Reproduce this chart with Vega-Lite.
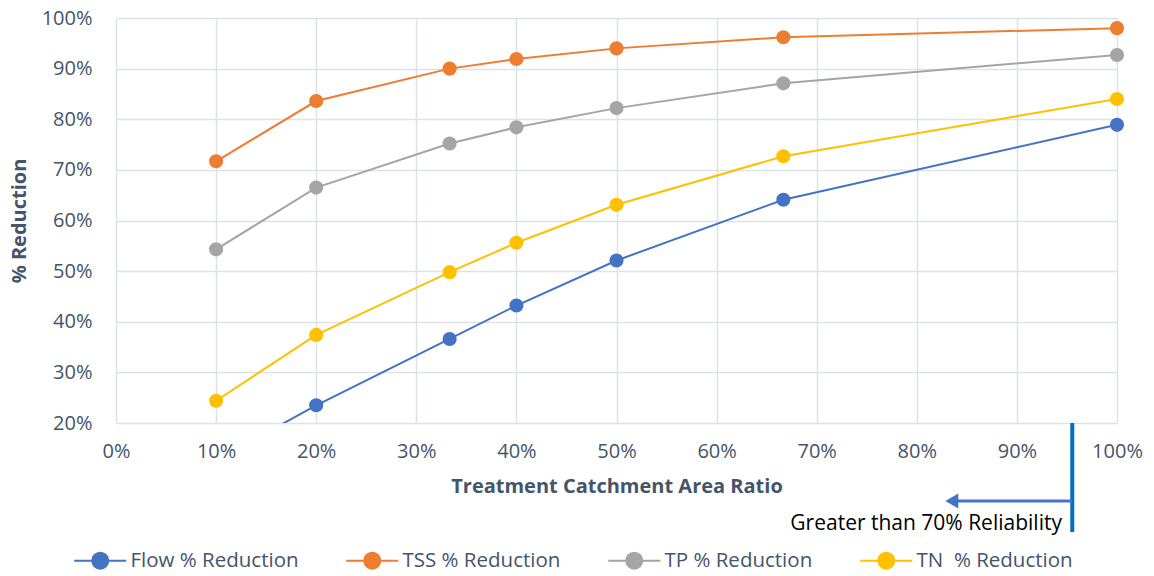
{
  "$schema": "https://vega.github.io/schema/vega-lite/v6.json",
  "autosize": {"type": "none"},
  "width": 1001,
  "height": 405,
  "padding": {"left": 116, "top": 18, "right": 37, "bottom": 153},
  "background": "white",
  "config": {
    "view": {"stroke": null},
    "font": "Open Sans",
    "axis": {
      "labelFont": "Open Sans",
      "labelFontSize": 20,
      "labelColor": "#44546A",
      "labelFlush": false,
      "labelOverlap": false,
      "titleFont": "Open Sans",
      "titleFontSize": 20,
      "titleFontWeight": "bold",
      "titleColor": "#44546A",
      "gridColor": "#DDE2E8",
      "gridWidth": 1.5,
      "domain": false,
      "ticks": false,
      "tickSize": 0
    }
  },
  "datasets": {
    "series": [
      {"ratio": 0.1, "series": "Flow % Reduction", "value": 0.126},
      {"ratio": 0.2, "series": "Flow % Reduction", "value": 0.235},
      {"ratio": 0.3333, "series": "Flow % Reduction", "value": 0.366},
      {"ratio": 0.4, "series": "Flow % Reduction", "value": 0.432},
      {"ratio": 0.5, "series": "Flow % Reduction", "value": 0.521},
      {"ratio": 0.6667, "series": "Flow % Reduction", "value": 0.641},
      {"ratio": 1.0, "series": "Flow % Reduction", "value": 0.789},
      {"ratio": 0.1, "series": "TSS % Reduction", "value": 0.717},
      {"ratio": 0.2, "series": "TSS % Reduction", "value": 0.836},
      {"ratio": 0.3333, "series": "TSS % Reduction", "value": 0.900},
      {"ratio": 0.4, "series": "TSS % Reduction", "value": 0.919},
      {"ratio": 0.5, "series": "TSS % Reduction", "value": 0.940},
      {"ratio": 0.6667, "series": "TSS % Reduction", "value": 0.962},
      {"ratio": 1.0, "series": "TSS % Reduction", "value": 0.980},
      {"ratio": 0.1, "series": "TP % Reduction", "value": 0.543},
      {"ratio": 0.2, "series": "TP % Reduction", "value": 0.665},
      {"ratio": 0.3333, "series": "TP % Reduction", "value": 0.752},
      {"ratio": 0.4, "series": "TP % Reduction", "value": 0.784},
      {"ratio": 0.5, "series": "TP % Reduction", "value": 0.822},
      {"ratio": 0.6667, "series": "TP % Reduction", "value": 0.871},
      {"ratio": 1.0, "series": "TP % Reduction", "value": 0.927},
      {"ratio": 0.1, "series": "TN\u00a0 % Reduction", "value": 0.244},
      {"ratio": 0.2, "series": "TN\u00a0 % Reduction", "value": 0.374},
      {"ratio": 0.3333, "series": "TN\u00a0 % Reduction", "value": 0.498},
      {"ratio": 0.4, "series": "TN\u00a0 % Reduction", "value": 0.556},
      {"ratio": 0.5, "series": "TN\u00a0 % Reduction", "value": 0.631},
      {"ratio": 0.6667, "series": "TN\u00a0 % Reduction", "value": 0.727},
      {"ratio": 1.0, "series": "TN\u00a0 % Reduction", "value": 0.840}
    ]
  },
  "layer": [
    {
      "data": {"name": "series"},
      "mark": {"type": "line", "strokeWidth": 2, "clip": true},
      "encoding": {
        "x": {
          "field": "ratio", "type": "quantitative",
          "scale": {"domain": [0, 1], "nice": false},
          "axis": {
            "values": [0, 0.1, 0.2, 0.3, 0.4, 0.5, 0.6, 0.7, 0.8, 0.9, 1],
            "format": ".0%",
            "labelPadding": 18,
            "title": "Treatment Catchment Area Ratio",
            "titlePadding": 15
          }
        },
        "y": {
          "field": "value", "type": "quantitative",
          "scale": {"domain": [0.2, 1], "nice": false, "zero": false},
          "axis": {
            "values": [0.2, 0.3, 0.4, 0.5, 0.6, 0.7, 0.8, 0.9, 1],
            "format": ".0%",
            "labelPadding": 24,
            "title": "% Reduction",
            "titlePadding": 12
          }
        },
        "color": {
          "field": "series", "type": "nominal",
          "scale": {
            "domain": ["Flow % Reduction", "TSS % Reduction", "TP % Reduction", "TN\u00a0 % Reduction"],
            "range": ["#4472C4", "#ED7D31", "#A5A5A5", "#FFC000"]
          },
          "legend": {
            "orient": "none",
            "legendX": -26,
            "legendY": 532,
            "direction": "horizontal",
            "title": null,
            "padding": 0,
            "symbolType": "M-3.25,0H3.25M-1,0A1,1,0,1,1,1,0A1,1,0,1,1,-1,0Z",
            "symbolSize": 256,
            "symbolStrokeWidth": 2,
            "labelFont": "Open Sans",
            "labelFontSize": 20.5,
            "labelColor": "#44546A",
            "labelOffset": 20,
            "columnPadding": 43,
            "labelLimit": 300,
            "encode": {
              "symbols": {
                "update": {
                  "fill": {"scale": "color", "field": "value"},
                  "stroke": {"scale": "color", "field": "value"},
                  "opacity": {"value": 1}
                }
              }
            }
          }
        }
      }
    },
    {
      "data": {"name": "series"},
      "transform": [{"filter": "datum.value >= 0.2"}],
      "mark": {"type": "point", "filled": true, "size": 200, "opacity": 1, "clip": false},
      "encoding": {
        "x": {"field": "ratio", "type": "quantitative"},
        "y": {"field": "value", "type": "quantitative"},
        "color": {"field": "series", "type": "nominal"}
      }
    },
    {
      "data": {"values": [{"x": 0.9553, "y": 0.2, "y2": -0.0153}]},
      "mark": {"type": "rule", "color": "#0070C0", "strokeWidth": 4, "clip": false},
      "encoding": {
        "x": {"field": "x", "type": "quantitative"},
        "y": {"field": "y", "type": "quantitative"},
        "y2": {"field": "y2"}
      }
    },
    {
      "data": {"values": [{"x": 0.9553, "x2": 0.838, "y": 0.0459}]},
      "mark": {"type": "rule", "color": "#4472C4", "strokeWidth": 3, "clip": false},
      "encoding": {
        "x": {"field": "x", "type": "quantitative"},
        "x2": {"field": "x2"},
        "y": {"field": "y", "type": "quantitative"}
      }
    },
    {
      "data": {"values": [{"x": 0.835, "y": 0.0459}]},
      "mark": {"type": "point", "shape": "triangle-left", "filled": true, "size": 225, "color": "#4472C4", "opacity": 1, "clip": false},
      "encoding": {
        "x": {"field": "x", "type": "quantitative"},
        "y": {"field": "y", "type": "quantitative"}
      }
    },
    {
      "data": {"values": [{"x": 0.945, "y": -0.0114, "label": "Greater than 70% Reliability"}]},
      "mark": {"type": "text", "align": "right", "baseline": "alphabetic", "font": "Open Sans", "fontSize": 21, "color": "#000000", "clip": false},
      "encoding": {
        "x": {"field": "x", "type": "quantitative"},
        "y": {"field": "y", "type": "quantitative"},
        "text": {"field": "label"}
      }
    }
  ]
}
